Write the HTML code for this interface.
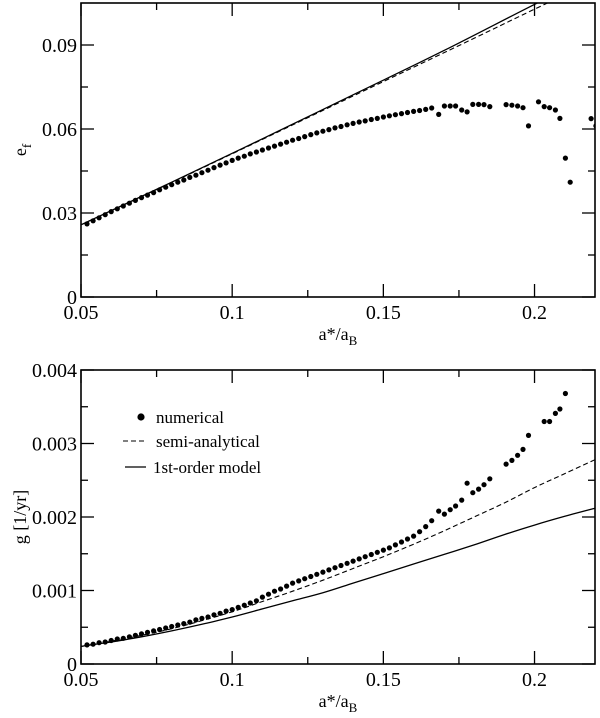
<!DOCTYPE html>
<html><head><meta charset="utf-8"><style>
html,body{margin:0;padding:0;background:#fff;}
svg{display:block;}
svg text{font-family:"Liberation Serif","DejaVu Serif",serif;}
</style></head><body>
<svg id="chart" width="600" height="718" viewBox="0 0 600 718" font-family="Liberation Serif, serif">
<defs>
<clipPath id="clipTop"><rect x="81" y="3" width="514" height="294"/></clipPath>
<clipPath id="clipBot"><rect x="81" y="370" width="514" height="294"/></clipPath>
</defs>
<g id="top"></g>
<g id="bot"></g>
</svg>
<script>
// ---- data ----
const topNumX = [0.052,0.054,0.056,0.058,0.060,0.062,0.064,0.066,0.068,0.070,0.072,0.074,0.076,0.078,0.080,0.082,0.084,0.086,0.088,0.090,0.092,0.094,0.096,0.098,0.100,0.102,0.104,0.106,0.108,0.110,0.112,0.114,0.116,0.118,0.120,0.122,0.124,0.126,0.128,0.130,0.132,0.134,0.136,0.138,0.140,0.142,0.144,0.146,0.148,0.150,0.152,0.154,0.156,0.158,0.160,0.162,0.164,0.166,
0.1683,0.1702,0.1721,0.1739,0.1759,0.1777,0.1796,0.1815,0.1833,0.1852,0.1906,0.1925,0.1944,0.1962,0.1980,0.2013,0.2032,0.2050,0.2069,0.2084,0.2102,0.2118,0.2187,0.2203];
const topNumE = [0.0261,0.0272,0.0283,0.0294,0.0305,0.0315,0.0325,0.0335,0.0345,0.0355,0.0364,0.0373,0.0383,0.0392,0.0401,0.0410,0.0418,0.0427,0.0435,0.0444,0.0453,0.0462,0.0471,0.0479,0.0488,0.0496,0.0503,0.0511,0.0518,0.0525,0.0532,0.0539,0.0546,0.0553,0.0560,0.0566,0.0573,0.0580,0.0586,0.0592,0.0598,0.0604,0.0609,0.0615,0.0620,0.0625,0.0629,0.0634,0.0638,0.0643,0.0647,0.0651,0.0655,0.0659,0.0663,0.0666,0.0670,0.0675,
0.0652,0.0682,0.0682,0.0682,0.0668,0.0661,0.0688,0.0688,0.0687,0.0680,0.0687,0.0685,0.0682,0.0676,0.0611,0.0697,0.0680,0.0676,0.0668,0.0638,0.0496,0.0410,0.0637,0.0611];
const topLineX = [0.05,0.08,0.11,0.14,0.17,0.20,0.22];
const topSolidE = [0.0258,0.0410,0.0565,0.0722,0.0880,0.1045,0.1150];
const topDashE = [0.0258,0.0409,0.0563,0.0718,0.0872,0.1028,0.1130];

const botNumX = [0.052,0.054,0.056,0.058,0.060,0.062,0.064,0.066,0.068,0.070,0.072,0.074,0.076,0.078,0.080,0.082,0.084,0.086,0.088,0.090,0.092,0.094,0.096,0.098,0.100,0.102,0.104,0.106,0.108,0.110,0.112,0.114,0.116,0.118,0.120,0.122,0.124,0.126,0.128,0.130,0.132,0.134,0.136,0.138,0.140,0.142,0.144,0.146,0.148,0.150,0.152,0.154,0.156,0.158,0.160,0.162,0.164,0.166,
0.1683,0.1702,0.1721,0.1739,0.1759,0.1777,0.1796,0.1815,0.1833,0.1852,0.1906,0.1925,0.1944,0.1962,0.1980,0.2032,0.2050,0.2069,0.2084,0.2102];
const botNumG = [0.00026,0.00027,0.00029,0.00030,0.00032,0.00034,0.00035,0.00037,0.00039,0.00041,0.00043,0.00045,0.00047,0.00049,0.00051,0.00053,0.00055,0.00057,0.00060,0.00062,0.00064,0.00067,0.00069,0.00072,0.00074,0.00077,0.00080,0.00083,0.00086,0.00091,0.00095,0.00099,0.00102,0.00106,0.00110,0.00113,0.00116,0.00119,0.00122,0.00125,0.00128,0.00131,0.00134,0.00137,0.00140,0.00143,0.00146,0.00149,0.00152,0.00155,0.00158,0.00162,0.00166,0.00170,0.00174,0.00180,0.00187,0.00195,
0.00208,0.00204,0.00210,0.00215,0.00223,0.00246,0.00233,0.00238,0.00244,0.00252,0.00272,0.00277,0.00284,0.00292,0.00311,0.00330,0.00330,0.00341,0.00347,0.00368];
const botLineX = [0.05,0.06,0.07,0.08,0.09,0.10,0.11,0.12,0.13,0.14,0.15,0.16,0.17,0.18,0.19,0.20,0.21,0.22];
const botSolidG = [0.00024,0.00030,0.00037,0.00045,0.00054,0.00064,0.00075,0.00086,0.00097,0.00110,0.00123,0.00136,0.00149,0.00162,0.00176,0.00189,0.00201,0.00212];
const botDashG = [0.00024,0.00031,0.00039,0.00048,0.00059,0.00071,0.00085,0.00099,0.00114,0.00130,0.00146,0.00163,0.00181,0.00200,0.00219,0.00240,0.00259,0.00278];

const xTicks = [0.05,0.1,0.15,0.2];
const xTickLabels = ["0.05","0.1","0.15","0.2"];
const xMinor = [0.075,0.125,0.175];
const topYTicks = [0,0.03,0.06,0.09];
const topYLabels = ["0","0.03","0.06","0.09"];
const topYMinor = [0.015,0.045,0.075];
const botYTicks = [0,0.001,0.002,0.003,0.004];
const botYLabels = ["0","0.001","0.002","0.003","0.004"];
const botYMinor = [0.0005,0.0015,0.0025,0.0035];

// ---- helpers ----
const NS = "http://www.w3.org/2000/svg";
const FF = "Liberation Serif, DejaVu Serif, serif";
function mk(parent, tag, attrs, text){
  const e = document.createElementNS(NS, tag);
  for (const k in attrs) e.setAttribute(k, attrs[k]);
  if (tag === "text") e.setAttribute("font-family", FF);
  if (text !== undefined) e.textContent = text;
  parent.appendChild(e);
  return e;
}
const L = 81, R = 595;
const xS = v => L + (v - 0.05) / 0.17 * (R - L);

function smoothPath(pts){
  let d = "M" + pts[0][0].toFixed(1) + "," + pts[0][1].toFixed(1);
  for (let i = 0; i < pts.length - 1; i++){
    const p0 = pts[Math.max(0,i-1)], p1 = pts[i], p2 = pts[i+1], p3 = pts[Math.min(pts.length-1,i+2)];
    const c1 = [p1[0] + (p2[0]-p0[0])/6, p1[1] + (p2[1]-p0[1])/6];
    const c2 = [p2[0] - (p3[0]-p1[0])/6, p2[1] - (p3[1]-p1[1])/6];
    d += "C" + c1[0].toFixed(1) + "," + c1[1].toFixed(1) + " " + c2[0].toFixed(1) + "," + c2[1].toFixed(1) + " " + p2[0].toFixed(1) + "," + p2[1].toFixed(1);
  }
  return d;
}

function panel(g, top, bot, ymax, yTicks, yLabels, yMinor, clip, numX, numY, lineX, solid, dash, isTop){
  const yS = v => bot - v / ymax * (bot - top);
  const lg = mk(g, "g", {"clip-path": "url(#" + clip + ")"});
  
  
  const sp = mk(lg, "path", {d: smoothPath(lineX.map((x,i)=>[xS(x), yS(solid[i])])), fill:"none", stroke:"#000", "stroke-width":"1.3"});
  
  
  const dp = mk(lg, "path", {d: smoothPath(lineX.map((x,i)=>[xS(x), yS(dash[i])])), fill:"none", stroke:"#000", "stroke-width":"1.1", "stroke-dasharray":"5,3"});
  
  
  const pg = mk(g, "g", {"clip-path": "url(#" + clip + ")"});
  
  
  numX.forEach((x,i)=>{
    const c = mk(pg, "circle", {cx: xS(x).toFixed(1), cy: yS(numY[i]).toFixed(1), r: "2.6", fill: "#000"});
    
    
  });
  const fr = mk(g, "rect", {x: L, y: top, width: R-L, height: bot-top, fill: "none", stroke: "#000", "stroke-width": "1.6"});
  
  
  const tg = mk(g, "g", {stroke: "#000", "stroke-width": "1.3"});
  
  
  xTicks.forEach(v=>{ const X=xS(v); mk(tg,"line",{x1:X,x2:X,y1:bot,y2:bot-13}); mk(tg,"line",{x1:X,x2:X,y1:top,y2:top+13}); });
  xMinor.forEach(v=>{ const X=xS(v); mk(tg,"line",{x1:X,x2:X,y1:bot,y2:bot-7}); mk(tg,"line",{x1:X,x2:X,y1:top,y2:top+7}); });
  yTicks.forEach(v=>{ const Y=yS(v); mk(tg,"line",{x1:L,x2:L+13,y1:Y,y2:Y}); mk(tg,"line",{x1:R,x2:R-13,y1:Y,y2:Y}); });
  yMinor.forEach(v=>{ const Y=yS(v); mk(tg,"line",{x1:L,x2:L+7,y1:Y,y2:Y}); mk(tg,"line",{x1:R,x2:R-7,y1:Y,y2:Y}); });
  xTicks.forEach((v,i)=>{
    const t = mk(g, "text", {x: xS(v), y: bot+22, "text-anchor": "middle", "font-size": "20"}, xTickLabels[i]);
    
    
  });
  yTicks.forEach((v,i)=>{
    const t = mk(g, "text", {x: 77, y: yS(v)+7, "text-anchor": "end", "font-size": "20"}, yLabels[i]);
    
    
  });
  const xt = mk(g, "text", {x: 338, y: bot+43, "text-anchor": "middle", "font-size": "18"});
  
  
  mk(xt, "tspan", {}, "a*/a");
  mk(xt, "tspan", {dy: "5", "font-size": "13"}, "B");
  const cy = (top+bot)/2;
  const yt = mk(g, "text", {transform: "translate(26," + cy + ") rotate(-90)", "text-anchor": "middle", "font-size": "18"});
  
  
  if (isTop) { mk(yt, "tspan", {}, "e"); mk(yt, "tspan", {dy: "5", "font-size": "13"}, "f"); }
  else { mk(yt, "tspan", {}, "g  [1/yr]"); }
}

const topG = document.getElementById("top");
const botG = document.getElementById("bot");
panel(topG, 3, 297, 0.105, topYTicks, topYLabels, topYMinor, "clipTop", topNumX, topNumE, topLineX, topSolidE, topDashE, true);
panel(botG, 370, 664, 0.004, botYTicks, botYLabels, botYMinor, "clipBot", botNumX, botNumG, botLineX, botSolidG, botDashG, false);

const lg = mk(botG, "g", {"font-size": "17"});


const e1 = mk(lg, "g", {});


mk(e1, "circle", {cx: 141, cy: 417, r: 3.6, fill: "#000"});
mk(e1, "text", {x: 156, y: 423, "font-size": "17"}, "numerical");
const e2 = mk(lg, "g", {});


mk(e2, "line", {x1: 123, x2: 146, y1: 441, y2: 441, stroke: "#000", "stroke-width": "1.1", "stroke-dasharray": "5,3"});
mk(e2, "text", {x: 156, y: 447, "font-size": "17"}, "semi-analytical");
const e3 = mk(lg, "g", {});


mk(e3, "line", {x1: 125, x2: 146, y1: 467, y2: 467, stroke: "#000", "stroke-width": "1.3"});
mk(e3, "text", {x: 153, y: 473, "font-size": "17"}, "1st-order model");
</script>
</body></html>
